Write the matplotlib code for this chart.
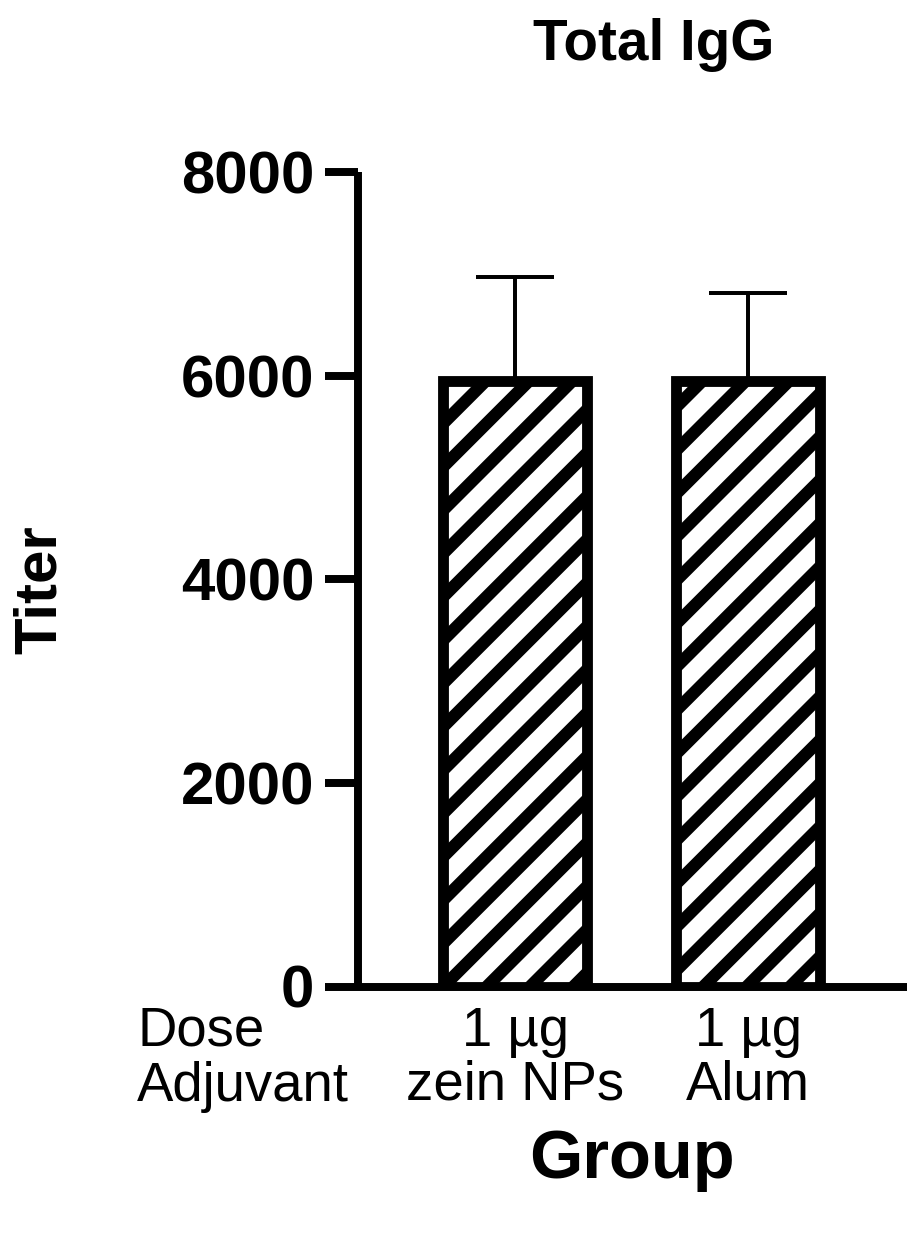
import matplotlib
matplotlib.use("Agg")
import matplotlib.pyplot as plt

# ---- data ----
groups = ["1 µg\nzein NPs", "1 µg\nAlum"]
row_header = ["Dose", "Adjuvant"]
means = [5950, 5950]
sd_upper = [1015, 865]
yticks = [0, 2000, 4000, 6000, 8000]

DPI = 260
W, H = 921, 1236
plt.rcParams['font.family'] = ['Liberation Sans', 'DejaVu Sans']
plt.rcParams['hatch.linewidth'] = 3.4
plt.rcParams['hatch.color'] = 'black'

fig = plt.figure(figsize=(W / DPI, H / DPI), dpi=DPI)
left, right, bottom_px, top_px = 358, 907, 986.5, 172
ax = fig.add_axes([left / W, (H - bottom_px) / H, (right - left) / W, (bottom_px - top_px) / H])

x = [1, 2]
ax.bar(x, means, width=0.62, color='white', edgecolor='black', linewidth=3.0,
       hatch='//', zorder=3)
ax.errorbar(x, means, yerr=[[0, 0], sd_upper], fmt='none', ecolor='black',
            elinewidth=1.1, capsize=10.8, capthick=1.1, zorder=2)

ax.set_xlim(0.326, 2.682)
ax.set_ylim(0, 8000)
ax.set_yticks(yticks)
ax.set_yticklabels([str(v) for v in yticks], fontsize=16.6, fontweight='bold')
ax.set_xticks(x)
ax.set_xticklabels(groups, fontsize=15.1, linespacing=1.02)
ax.tick_params(axis='x', length=0, pad=5.5)
ax.tick_params(axis='y', length=9.1, width=2.2, pad=3, direction='out')

for s in ['top', 'right']:
    ax.spines[s].set_visible(False)
for s in ['left', 'bottom']:
    ax.spines[s].set_linewidth(2.2)
    ax.spines[s].set_capstyle('butt')

for txt, base_px in zip(row_header, [1046, 1101]):
    fig.text(137 / W, 1 - base_px / H, txt, fontsize=15.1, ha='left', va='baseline')
fig.text(654 / W, 1 - 18 / H, "Total IgG", fontsize=15.7, fontweight='bold',
         ha='center', va='top')
fig.text(40 / W, 1 - 590 / H, "Titer", fontsize=16.6, fontweight='bold',
         ha='center', va='center', rotation=90)
fig.text(632 / W, 1 - 1160 / H, "Group", fontsize=19.0, fontweight='bold',
         ha='center', va='center')

fig.savefig("out.png", dpi=DPI)
